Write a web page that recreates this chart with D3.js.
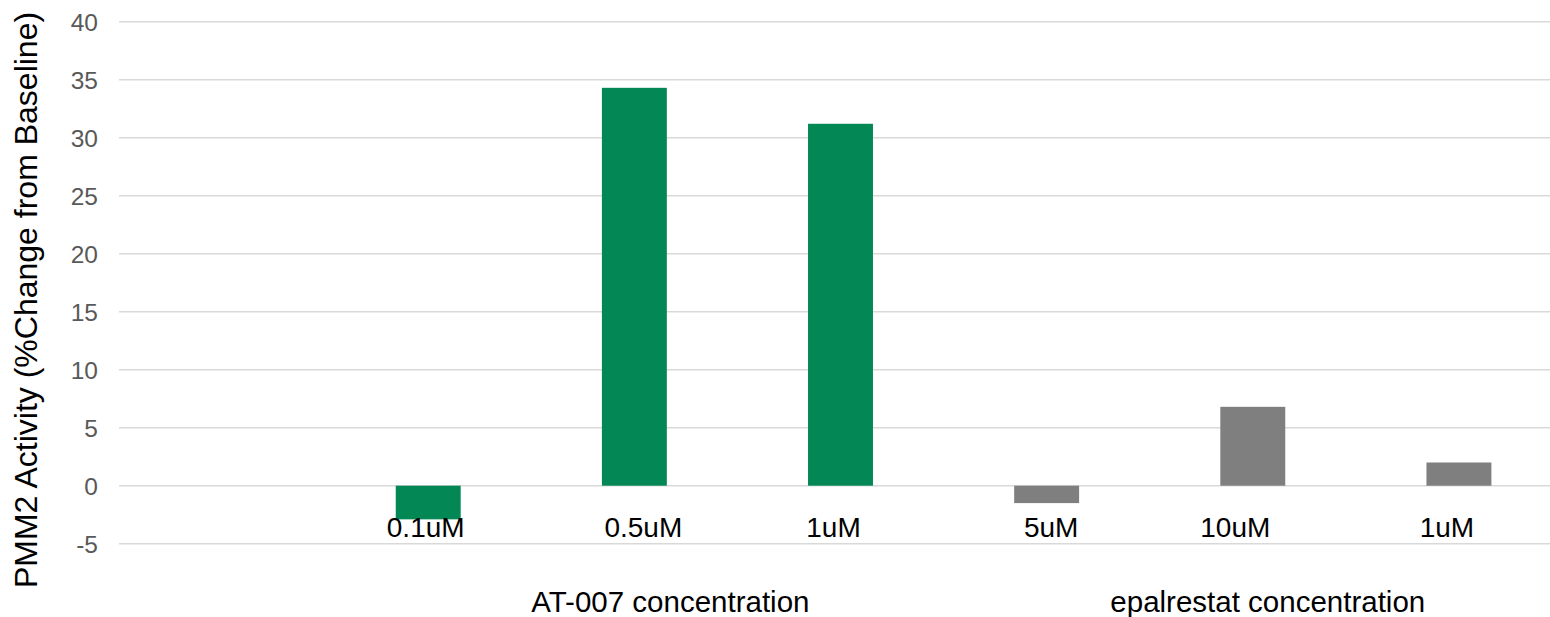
<!DOCTYPE html>
<html>
<head>
<meta charset="utf-8">
<script src="https://cdn.jsdelivr.net/npm/d3@7"></script>
<style>
  html, body { margin: 0; padding: 0; background: #ffffff; }
  svg { display: block; font-family: Arial, "Liberation Sans", sans-serif; }
</style>
</head>
<body>
<svg id="chart" width="1550" height="617"></svg>
<script>
// Category slots along the x axis (the first slot is left empty)
const categories = ["", "0.1uM", "0.5uM", "1uM", "5uM", "10uM", "1uM "];
const categoryLabels = ["", "0.1uM", "0.5uM", "1uM", "5uM", "10uM", "1uM"];
// PMM2 activity, % change from baseline
const at007Values = [null, -2.9, 34.3, 31.2, null, null, null];
const epalrestatValues = [null, null, null, null, -1.5, 6.8, 2.0];
const yTicks = [-5, 0, 5, 10, 15, 20, 25, 30, 35, 40];
const groupTitles = ["AT-007 concentration", "epalrestat concentration"];
const groupMembers = [["0.1uM", "0.5uM", "1uM"], ["5uM", "10uM", "1uM "]];

// Layout: horizontal nudges of the hand-placed category text boxes
const labelNudge = [0, -2.5, 9, -7, 4.5, -17.5, -12];

const svg = d3.select("#chart");
const plotLeft = 119, plotRight = 1562, plotTop = 21.7, plotBottom = 543.7;

const x = d3.scaleBand()
  .domain(categories)
  .range([plotLeft, plotRight])
  .paddingInner(0.685)
  .paddingOuter(0.3425);

const y = d3.scaleLinear().domain([-5, 40]).range([plotBottom, plotTop]);

// Horizontal gridlines
svg.append("g")
  .selectAll("line")
  .data(yTicks)
  .join("line")
  .attr("x1", plotLeft)
  .attr("x2", 1550)
  .attr("y1", d => y(d))
  .attr("y2", d => y(d))
  .attr("stroke", "#d9d9d9")
  .attr("stroke-width", 1.5);

// Y axis tick labels (plain hyphen for negatives)
const yAxis = d3.axisLeft(y).tickValues(yTicks).tickFormat(d => String(d)).tickSize(0).tickPadding(0);
const yg = svg.append("g")
  .attr("transform", `translate(${plotLeft - 21},0)`)
  .call(yAxis);
yg.select(".domain").remove();
yg.selectAll("text")
  .attr("fill", "#595959")
  .attr("font-size", 24.5)
  .attr("font-family", "Arial, 'Liberation Sans', sans-serif")
  .attr("dy", "0.36em");

// Bars for both series
function drawBars(values, color) {
  const rows = categories.map((c, i) => ({ c, v: values[i] })).filter(d => d.v !== null);
  svg.append("g")
    .selectAll("rect")
    .data(rows)
    .join("rect")
    .attr("x", d => x(d.c))
    .attr("width", x.bandwidth())
    .attr("y", d => y(Math.max(0, d.v)))
    .attr("height", d => Math.abs(y(d.v) - y(0)))
    .attr("fill", color);
}
drawBars(at007Values, "#038754");
drawBars(epalrestatValues, "#7f7f7f");

// Category labels beneath the zero line
svg.append("g")
  .selectAll("text")
  .data(categories.map((c, i) => ({ c, label: categoryLabels[i], dx: labelNudge[i] })).filter(d => d.label))
  .join("text")
  .attr("x", d => x(d.c) + x.bandwidth() / 2 + d.dx)
  .attr("y", 536.5)
  .attr("text-anchor", "middle")
  .attr("font-size", 28)
  .attr("fill", "#000000")
  .text(d => d.label);

// Group titles centred under each set of concentrations
const groupCenters = groupMembers.map(m => {
  const a = x(m[0]), b = x(m[m.length - 1]) + x.bandwidth();
  return (a + b) / 2;
});
svg.append("g")
  .selectAll("text")
  .data(groupTitles)
  .join("text")
  .attr("x", (d, i) => groupCenters[i] + (i === 0 ? 36 : 15))
  .attr("y", 612)
  .attr("text-anchor", "middle")
  .attr("font-size", 29.5)
  .attr("fill", "#000000")
  .text(d => d);

// Y axis title
svg.append("text")
  .attr("transform", `translate(37,${(10 + 590) / 2}) rotate(-90)`)
  .attr("text-anchor", "middle")
  .attr("font-size", 32)
  .attr("fill", "#000000")
  .text("PMM2 Activity (%Change from Baseline)");
</script>
</body>
</html>
